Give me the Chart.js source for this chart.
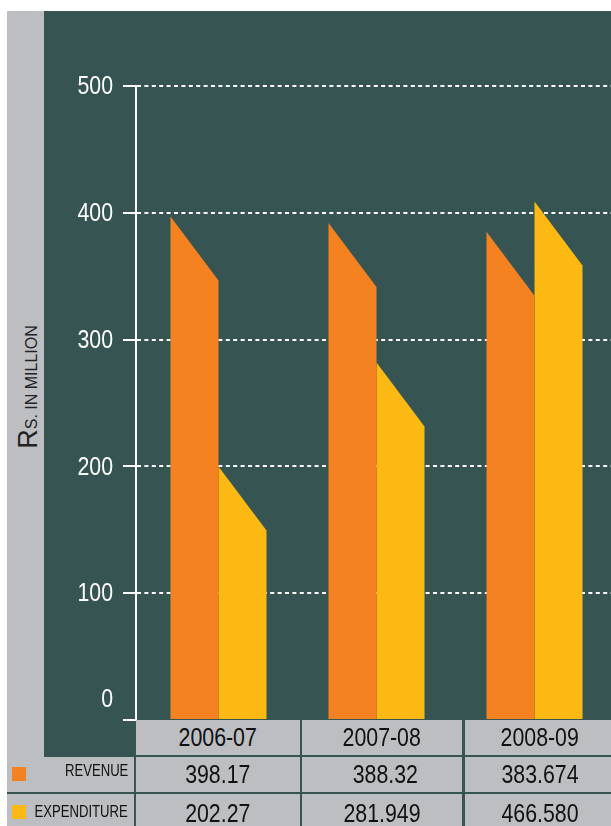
<!DOCTYPE html>
<html>
<head>
<meta charset="utf-8">
<script src="https://cdn.jsdelivr.net/npm/chart.js@4.4.1/dist/chart.umd.min.js"></script>
<style>
html, body { margin: 0; padding: 0; background: #fff; width: 611px; height: 826px; overflow: hidden; }
.abs { position: absolute; }
#strip { left: 7px; top: 11px; width: 37px; height: 815px; background: #bdbec2; }
#panel { left: 44px; top: 11px; width: 567px; height: 746px; background: #355452; }
#chart { left: 44px; top: 11px; }
#tableBg { left: 7px; top: 757px; width: 604px; height: 69px; background: #355452; }
.cell { background: #bdbec2; color: #111; font-family: "Liberation Sans", Arial, sans-serif;
        font-size: 26px; text-align: center; white-space: pre; overflow: hidden; }
.cell span, .lbl span { display: inline-block; transform: scaleX(0.82); white-space: pre; }
.lbl { font-family: "Liberation Sans", Arial, sans-serif; font-size: 16px; line-height: 16px;
       color: #111; text-align: right; width: 120px; left: 8px; }
.lbl span { transform-origin: right center; }
.sw { width: 14px; height: 14px; left: 12px; }
#ytitle { left: -44px; top: 372px; width: 144px; height: 30px; line-height: 30px; text-align: center;
          transform: rotate(-90deg); white-space: nowrap; color: #222;
          font-family: "Liberation Sans", Arial, sans-serif; }
#ytitle .r { font-size: 27px; }
#ytitle .sc { font-size: 16px; text-transform: uppercase; }
</style>
</head>
<body>
<div id="strip" class="abs"></div>
<div id="panel" class="abs"></div>
<canvas id="chart" class="abs" width="567" height="746"></canvas>
<div id="tableBg" class="abs"></div>
<div id="ytitle" class="abs"><span class="r">R</span><span class="sc">s. in million</span></div>
<div id="table"></div>
<script>
// values
const years = ["2006-07", "2007-08", "2008-09"];
const revenue = [397, 392, 385];        // bar heights as drawn
const expenditure = [200, 282, 409];
const revenueText = ["398.17", " 388.32", "383.674"];
const expenditureText = ["202.27", "281.949", "466.580"];
const yTicks = [0, 100, 200, 300, 400, 500];

const TEAL = "#355452";
const ORANGE = "#f58220";
const YELLOW = "#fdb913";
const NARROW = 0.82; // squeeze for a condensed look

// bars with slanted tops, drawn from the bar elements
const slantBars = {
	id: "slantBars",
	beforeDatasetDraw(chart, args) {
		const ctx = chart.ctx;
		const ds = chart.data.datasets[args.index];
		ctx.save();
		ctx.fillStyle = ds.backgroundColor;
		args.meta.data.forEach((bar) => {
			const p = bar.getProps(["x", "y", "base", "width"], true);
			const l = p.x - p.width / 2;
			const r = p.x + p.width / 2;
			const drop = p.width * 4 / 3;
			ctx.beginPath();
			ctx.moveTo(l, p.base);
			ctx.lineTo(l, p.y);
			ctx.lineTo(r, Math.min(p.y + drop, p.base));
			ctx.lineTo(r, p.base);
			ctx.closePath();
			ctx.fill();
		});
		ctx.restore();
		return false;
	},
};

// condensed y tick labels (the 0 sits a bit above its tick)
const narrowTicks = {
	id: "narrowTicks",
	afterDraw(chart) {
		const s = chart.scales.y;
		const ctx = chart.ctx;
		ctx.save();
		ctx.fillStyle = "#fff";
		ctx.font = "26px 'Liberation Sans', Arial";
		ctx.textAlign = "right";
		ctx.textBaseline = "middle";
		s.ticks.forEach((t) => {
			const lift = t.value === 0 ? 21 : 0;
			ctx.save();
			ctx.translate(s.right - 13 - 10, s.getPixelForValue(t.value) - lift);
			ctx.scale(NARROW, 1);
			ctx.fillText(String(t.value), 0, 1);
			ctx.restore();
		});
		ctx.restore();
	},
};

const pts = (arr) => arr.map((v, i) => ({ x: i, y: v }));

new Chart(document.getElementById("chart"), {
	type: "bar",
	data: {
		labels: years,
		datasets: [
			{ label: "REVENUE", data: pts(revenue), backgroundColor: ORANGE },
			{ label: "EXPENDITURE", data: pts(expenditure), backgroundColor: YELLOW },
		],
	},
	options: {
		responsive: false,
		animation: false,
		devicePixelRatio: 1,
		layout: { padding: { top: 75, bottom: 37, left: 0, right: 0 } },
		plugins: { legend: { display: false }, tooltip: { enabled: false } },
		datasets: { bar: { barThickness: 48 } },
		scales: {
			x: { type: "linear", display: false, offset: false, min: -0.522, max: 2.484 },
			y: {
				min: 0,
				max: 500,
				afterBuildTicks: (s) => { s.ticks = yTicks.map((v) => ({ value: v })); },
				afterFit: (s) => { s.width = 92; },
				ticks: {
					color: "rgba(0,0,0,0)",
					padding: 10,
					font: { family: "'Liberation Sans', Arial", size: 26 },
				},
				grid: {
					color: (c) => (c.tick && c.tick.value === 0 ? "rgba(0,0,0,0)" : "#fff"),
					tickColor: "#fff",
					lineWidth: 2,
					borderDash: [4, 3.4],
					tickBorderDash: [],
					tickLength: 13,
				},
				border: { display: true, color: "#fff", width: 2, dash: [4, 3.4] },
			},
		},
	},
	plugins: [slantBars, narrowTicks],
});

// table under the chart
const table = document.getElementById("table");
const colLeft = [136, 302, 465];
const colWidth = [164, 160, 150];
function cell(left, top, w, h, text, lh) {
	const d = document.createElement("div");
	d.className = "abs cell";
	d.style.cssText = `left:${left}px;top:${top}px;width:${w}px;height:${h}px;line-height:${lh || h}px;`;
	if (text) {
		const s = document.createElement("span");
		s.textContent = text;
		d.appendChild(s);
	}
	table.appendChild(d);
	return d;
}
years.forEach((y, i) => {
	cell(colLeft[i], 720, colWidth[i], 35, y);
	cell(colLeft[i], 757, colWidth[i], 35, revenueText[i]);
	cell(colLeft[i], 794, colWidth[i], 40, expenditureText[i], 38);
});
// label cells
cell(7, 757, 127, 35, "");
cell(7, 794, 127, 40, "");
const rows = [["REVENUE", ORANGE, 763, 767], ["EXPENDITURE", YELLOW, 804, 805]];
rows.forEach(([t, c, ty, sy]) => {
	const l = document.createElement("div");
	l.className = "abs lbl";
	l.style.top = ty + "px";
	const sp = document.createElement("span");
	sp.textContent = t;
	l.appendChild(sp);
	table.appendChild(l);
	const s = document.createElement("div");
	s.className = "abs sw";
	s.style.top = sy + "px";
	s.style.background = c;
	table.appendChild(s);
});
</script>
</body>
</html>
